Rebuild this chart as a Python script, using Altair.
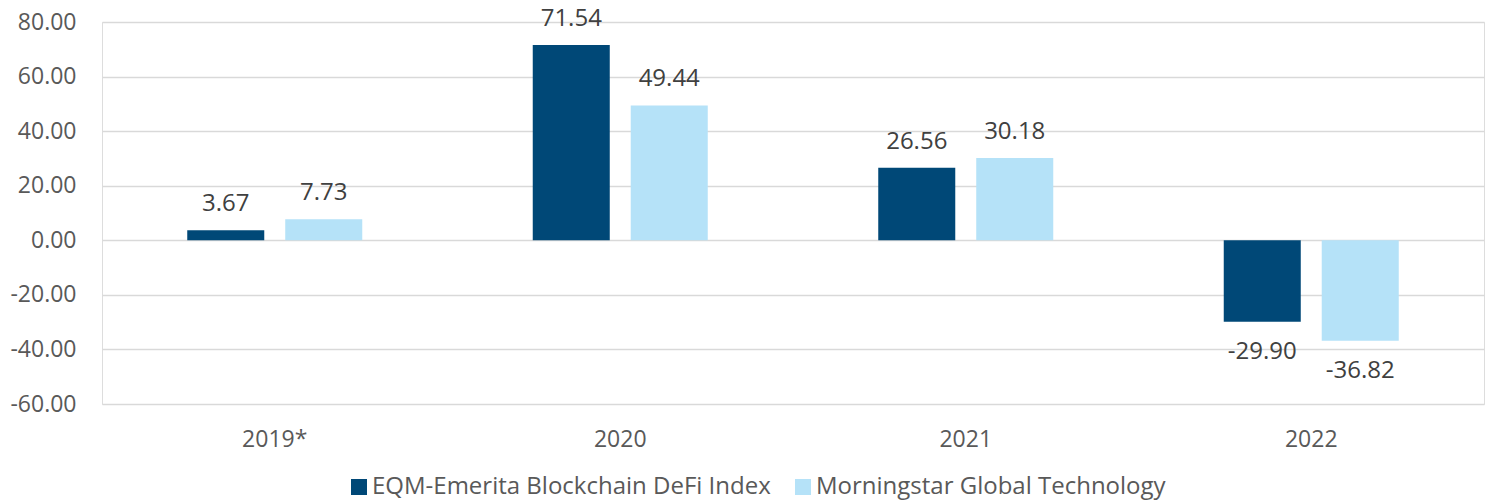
import altair as alt
import pandas as pd

years = ["2019*", "2020", "2021", "2022"]
series = ["EQM-Emerita Blockchain DeFi Index", "Morningstar Global Technology"]
eqm_values = [3.67, 71.54, 26.56, -29.90]
mstar_values = [7.73, 49.44, 30.18, -36.82]
colors = ["#004877", "#b5e2f8"]

rows = []
for i, y in enumerate(years):
    rows.append({"year": y, "series": series[0], "value": eqm_values[i]})
    rows.append({"year": y, "series": series[1], "value": mstar_values[i]})
df = pd.DataFrame(rows)
df["label"] = df["value"].map(lambda v: f"{v:.2f}")

FONT = "Open Sans"

x = alt.X("year:N", sort=years, title=None,
          scale=alt.Scale(paddingInner=0, paddingOuter=0),
          axis=alt.Axis(labelAngle=0, labelFontSize=23, labelColor="#595959",
                        labelFont=FONT, ticks=False, domain=False, labelPadding=24,
                        grid=False))
xoff = alt.XOffset("series:N", sort=series,
                   scale=alt.Scale(paddingInner=0.214, paddingOuter=0.87))
y = alt.Y("value:Q", title=None,
          scale=alt.Scale(domain=[-60, 80], nice=False),
          axis=alt.Axis(values=[-60, -40, -20, 0, 20, 40, 60, 80],
                        labelExpr="replace(format(datum.value, '.2f'), '\u2212', '-')",
                        labelFontSize=23, labelColor="#595959", labelFont=FONT,
                        ticks=False, domain=False, labelPadding=26,
                        gridColor="#d9d9d9", gridWidth=1.5))

bars = alt.Chart(df).mark_bar().encode(
    x=x, xOffset=xoff, y=y,
    color=alt.Color("series:N", sort=series,
                    scale=alt.Scale(domain=series, range=colors),
                    legend=alt.Legend(title=None, orient="none", direction="horizontal",
                                      legendX=245, legendY=453,
                                      symbolType="square", symbolSize=256,
                                      symbolStrokeWidth=0, labelFontSize=24,
                                      labelColor="#595959", labelFont=FONT,
                                      labelOffset=1, columnPadding=20,
                                      labelLimit=600)),
)

pos = alt.Chart(df).transform_filter("datum.value >= 0").mark_text(
    fontSize=24, font=FONT, color="#404040", baseline="alphabetic", dy=-19
).encode(x=x, xOffset=xoff, y=y, text="label:N")

neg = alt.Chart(df).transform_filter("datum.value < 0").mark_text(
    fontSize=24, font=FONT, color="#404040", baseline="alphabetic", dy=37
).encode(x=x, xOffset=xoff, y=y, text="label:N")

chart = alt.layer(bars, pos, neg).properties(
    width=1382, height=382,
    autosize=alt.AutoSizeParams(type="none"),
    padding={"left": 102, "top": 22, "right": 6, "bottom": 99},
).configure_view(stroke=None).configure(background="white")

chart.save("out.html", embed_options={"renderer": "svg", "actions": False})
